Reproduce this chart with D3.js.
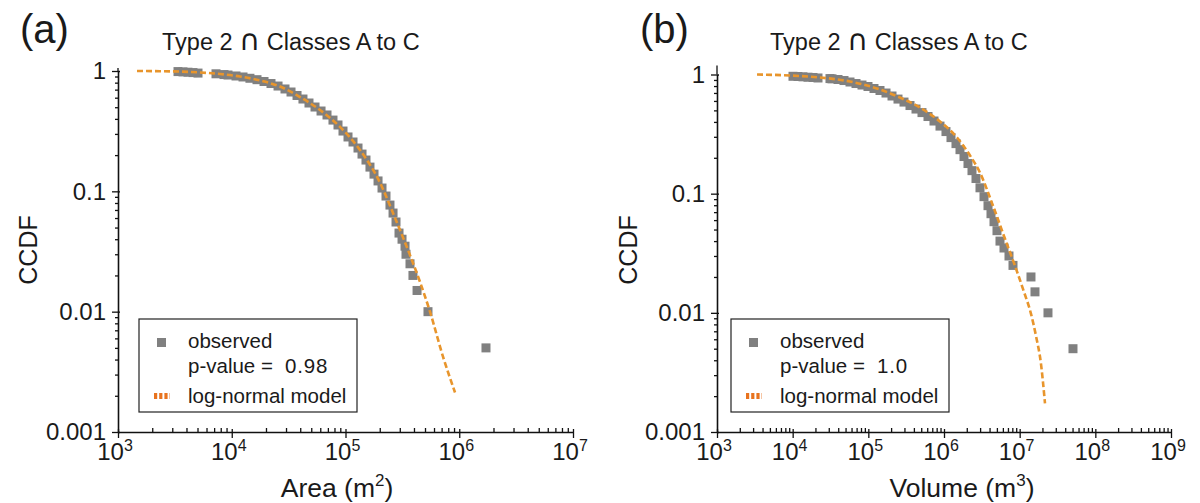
<!DOCTYPE html>
<html>
<head>
<meta charset="utf-8">
<script src="https://cdn.jsdelivr.net/npm/d3@7"></script>
<style>
  body { margin: 0; background: #fff; }
  svg { display: block; }
  text { font-family: "Liberation Sans", Arial, sans-serif; fill: #1a1a1a; }
</style>
</head>
<body>
<div id="chart"></div>
<script>
// observed CCDF points, [value, ccdf]
var areaObserved = [
  [3369, 0.989], [3727, 0.983], [4124, 0.977], [4563, 0.970], [5050, 0.961],
  [7270, 0.948], [8550, 0.934], [9270, 0.926], [10900, 0.909], [12560, 0.892],
  [14450, 0.870], [16670, 0.847], [19220, 0.818], [22130, 0.787], [25520, 0.750],
  [29380, 0.709], [33190, 0.669], [37490, 0.626], [42270, 0.585], [47750, 0.542],
  [53950, 0.502], [60950, 0.465], [68770, 0.431], [77620, 0.391], [85910, 0.356],
  [95060, 0.317], [105200, 0.283], [116400, 0.257], [128800, 0.229], [139700, 0.204],
  [151400, 0.182], [164100, 0.159], [178100, 0.139], [193200, 0.122], [209400, 0.1065],
  [227000, 0.0914], [246000, 0.0769], [261800, 0.066], [278000, 0.0556],
  [295400, 0.045], [314000, 0.040], [333600, 0.035], [340300, 0.030], [369000, 0.025],
  [391700, 0.020], [425600, 0.015], [531000, 0.010], [1718000, 0.005]
];
var areaModel = [
  [1469, 1.0], [2339, 0.996], [3510, 0.989], [5260, 0.972], [7880, 0.944],
  [11830, 0.900], [17710, 0.834], [26560, 0.743], [39810, 0.608], [59700, 0.474],
  [89500, 0.343], [134000, 0.221], [201000, 0.118], [272500, 0.0601], [369000, 0.0295],
  [451500, 0.0177], [553000, 0.0100], [719500, 0.00423], [918000, 0.00213]
];

var volumeObserved = [
  [10100, 0.966], [11760, 0.962], [13690, 0.956], [15940, 0.949], [18570, 0.944], [21610, 0.935],
  [31130, 0.924], [33110, 0.920], [39730, 0.908], [47690, 0.890], [57240, 0.865],
  [68700, 0.840], [82460, 0.816], [98970, 0.793], [118800, 0.763], [142600, 0.734],
  [171200, 0.699], [205500, 0.660], [246600, 0.622], [296000, 0.587], [355300, 0.549],
  [426500, 0.513], [511800, 0.479], [614400, 0.444], [737400, 0.407], [885300, 0.369],
  [1062000, 0.332], [1237000, 0.2955], [1440000, 0.263], [1627000, 0.234], [1838000, 0.205],
  [2075000, 0.179], [2344000, 0.156], [2648000, 0.134], [2990000, 0.112], [3378000, 0.0944],
  [3815000, 0.0793], [4178000, 0.0679], [4579000, 0.0582], [5016000, 0.0489],
  [5495000, 0.040], [6206000, 0.035], [7226000, 0.030], [8163000, 0.025],
  [14110000, 0.020], [15940000, 0.015], [23670000, 0.010], [50660000, 0.005]
];
var volumeModel = [
  [3380, 1.0], [9220, 0.981], [22970, 0.944], [57240, 0.873], [142600, 0.748],
  [261900, 0.641], [481700, 0.528], [885300, 0.403], [1486000, 0.296], [2205000, 0.209],
  [2990000, 0.150], [4439000, 0.0792], [6397000, 0.0418], [8670000, 0.0248],
  [11400000, 0.0150], [14120000, 0.00981], [16430000, 0.00641], [19130000, 0.00373],
  [21610000, 0.00174]
];

var yTicks = [0.001, 0.01, 0.1, 1];
var titleParts = ["Type 2 ", "\u2229", " Classes A to C"];
var legendLabels = ["observed", "p-value = ", "log-normal model"];

var svg = d3.select("#chart").append("svg").attr("width", 1200).attr("height", 503);

var grey = "#808080";
var orange = "#e8952c";

function drawPanel(p) {
  var x = d3.scaleLog().domain(p.xDomain).range(p.xRange);
  var y = d3.scaleLog().domain([0.001, 1]).range(p.yRange);
  var g = svg.append("g");

  var lo = Math.log10(p.xDomain[0]), hi = Math.log10(p.xDomain[1]);
  var xMaj = d3.range(lo, hi + 1).map((e) => Math.pow(10, e));
  var xMin = [];
  d3.range(lo, hi).forEach((e) => {
    for (var m = 2; m < 10; m++) xMin.push(m * Math.pow(10, e));
  });
  var yMin = [];
  [-3, -2, -1].forEach((e) => {
    for (var m = 2; m < 10; m++) yMin.push(m * Math.pow(10, e));
  });

  var x0 = p.xRange[0], yb = p.yRange[0];

  // x axis
  g.append("g").attr("transform", `translate(0,${yb})`)
    .call(d3.axisBottom(x).tickValues(xMaj).tickSize(6).tickSizeOuter(0).tickFormat(""));
  g.append("g").attr("transform", `translate(0,${yb})`)
    .call(d3.axisTop(x).tickValues(xMaj).tickSize(3).tickSizeOuter(0).tickFormat(""))
    .call((a) => a.select(".domain").remove());
  g.append("g").attr("transform", `translate(0,${yb})`)
    .call(d3.axisTop(x).tickValues(xMin).tickSize(4).tickSizeOuter(0).tickFormat(""))
    .call((a) => a.select(".domain").remove());

  // y axis
  g.append("g").attr("transform", `translate(${x0},0)`)
    .call(d3.axisLeft(y).tickValues(yTicks).tickSize(6).tickSizeOuter(0).tickPadding(6)
      .tickFormat((d) => String(d)))
    .call((a) => a.selectAll("text").attr("font-size", 24).style("fill", "#1a1a1a"));
  g.append("g").attr("transform", `translate(${x0},0)`)
    .call(d3.axisRight(y).tickValues(yTicks).tickSize(2).tickSizeOuter(0).tickFormat(""))
    .call((a) => a.select(".domain").remove());
  g.append("g").attr("transform", `translate(${x0},0)`)
    .call(d3.axisLeft(y).tickValues(yMin).tickSize(3).tickSizeOuter(0).tickFormat(""))
    .call((a) => a.select(".domain").remove());
  g.append("line")
    .attr("x1", x0).attr("x2", x0)
    .attr("y1", p.yRange[1] - p.topExtra).attr("y2", p.yRange[1]);

  g.selectAll(".domain, .tick line, line").attr("stroke", "#111").attr("stroke-width", 1.3);
  g.selectAll(".domain").attr("stroke-width", 1.6);

  // x tick labels, 10^n
  var lab = g.append("g").selectAll("text").data(xMaj).join("text")
    .attr("x", (d) => x(d) - 3)
    .attr("y", yb + 28)
    .attr("text-anchor", "middle")
    .attr("font-size", 24);
  lab.append("tspan").text("10");
  lab.append("tspan").attr("font-size", 16).attr("dy", -9)
    .text((d) => Math.round(Math.log10(d)));

  // observed squares
  var s = 9;
  g.append("g").selectAll("rect").data(p.observed).join("rect")
    .attr("x", (d) => x(d[0]) - s / 2)
    .attr("y", (d) => y(d[1]) - s / 2)
    .attr("width", s).attr("height", s)
    .attr("fill", grey);

  // model line
  var line = d3.line().x((d) => x(d[0])).y((d) => y(d[1])).curve(d3.curveMonotoneX);
  g.append("path").datum(p.model)
    .attr("d", line)
    .attr("fill", "none")
    .attr("stroke", orange)
    .attr("stroke-width", 2.6)
    .attr("stroke-dasharray", "6,3");

  // titles
  g.append("text").attr("x", p.tagX).attr("y", 43).attr("font-size", 40).text(p.tag);
  var t = g.append("text").attr("x", p.titleX).attr("y", 50).attr("font-size", 23.5);
  t.append("tspan").text(titleParts[0]);
  t.append("tspan").style("font-family", "'DejaVu Sans'").attr("font-size", 29).text(titleParts[1]);
  t.append("tspan").text(titleParts[2]);
  g.append("text")
    .attr("transform", `translate(${p.ccdfX},250) rotate(-90)`)
    .attr("text-anchor", "middle").attr("font-size", 25).text("CCDF");
  var xl = g.append("text").attr("x", p.xLabelX).attr("y", 497)
    .attr("text-anchor", "middle").attr("font-size", 26.5);
  xl.append("tspan").text(p.xLabel + " (m");
  xl.append("tspan").attr("font-size", 17).attr("dy", -11).text(p.xPow);
  xl.append("tspan").attr("dy", 11).text(")");

  // legend
  var L = p.legend;
  g.append("rect").attr("x", L.x).attr("y", 319).attr("width", 218).attr("height", 93)
    .attr("fill", "#fff").attr("stroke", "#222").attr("stroke-width", 1.2);
  g.append("rect").attr("x", L.x + 18).attr("y", 338).attr("width", 9).attr("height", 9)
    .attr("fill", grey);
  g.append("line").attr("x1", L.x + 15).attr("x2", L.x + 31).attr("y1", 396).attr("y2", 396)
    .attr("stroke", "#e8731e").attr("stroke-width", 6).attr("stroke-dasharray", "3.2,2");
  g.append("text").attr("x", L.x + 49).attr("y", 348).attr("font-size", 20.5).text(legendLabels[0]);
  var pv = g.append("text").attr("x", L.x + 49).attr("y", 373).attr("font-size", 20.5);
  pv.append("tspan").text(legendLabels[1]);
  pv.append("tspan").attr("x", L.x + 146).attr("letter-spacing", 0.8).text(p.pValue);
  g.append("text").attr("x", L.x + 49).attr("y", 403).attr("font-size", 20.5).text(legendLabels[2]);
}

drawPanel({
  tag: "(a)", tagX: 20, titleX: 162, ccdfX: 37,
  xDomain: [1e3, 1e7], xRange: [118, 573], yRange: [432, 71], topExtra: 3,
  observed: areaObserved, model: areaModel,
  xLabel: "Area", xPow: "2", xLabelX: 337,
  legend: { x: 139 }, pValue: "0.98"
});
drawPanel({
  tag: "(b)", tagX: 640, titleX: 770, ccdfX: 637,
  xDomain: [1e3, 1e9], xRange: [717, 1171], yRange: [432, 74.5], topExtra: 9,
  observed: volumeObserved, model: volumeModel,
  xLabel: "Volume", xPow: "3", xLabelX: 962,
  legend: { x: 731 }, pValue: "1.0"
});
</script>
</body>
</html>
